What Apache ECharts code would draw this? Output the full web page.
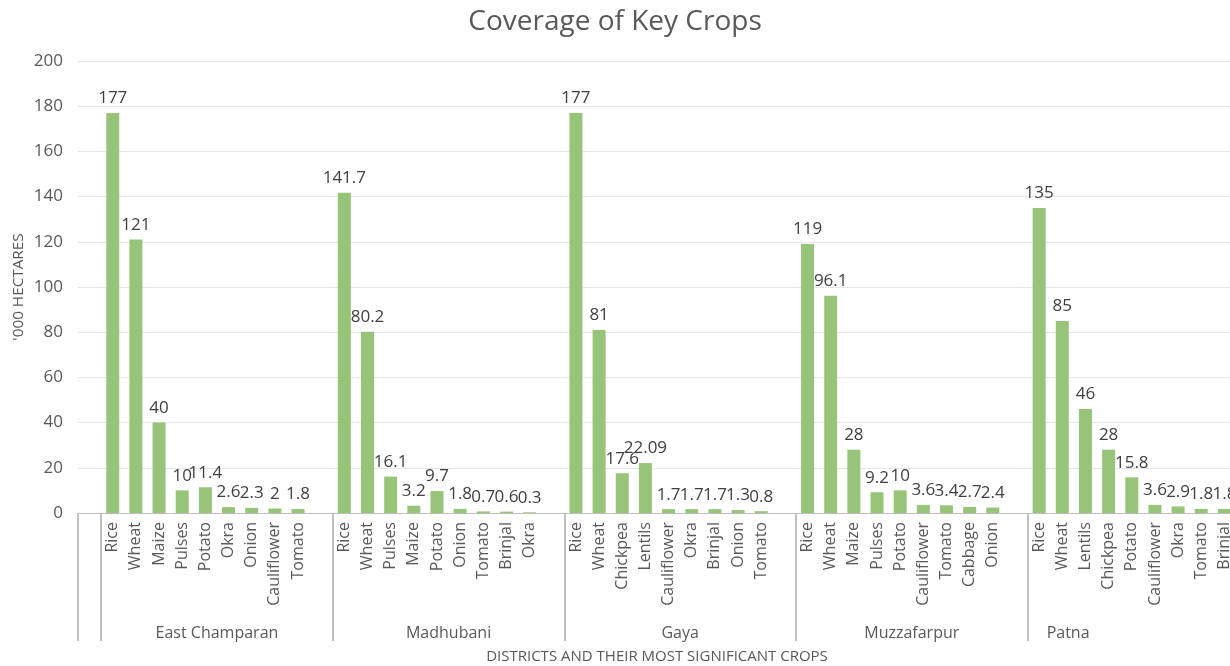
<!DOCTYPE html>
<html>
<head>
<meta charset="utf-8">
<script src="https://cdn.jsdelivr.net/npm/echarts@6/dist/echarts.min.js"></script>
<style>
html,body{margin:0;padding:0;background:#fff;}
#chart{width:1230px;height:666px;}
</style>
</head>
<body>
<div id="chart"></div>
<script>
// Categories: leading blank slot, then each district's crops followed by a blank slot
const districts = ['East Champaran', 'Madhubani', 'Gaya', 'Muzzafarpur', 'Patna'];
const eastChamparanCrops = ['Rice','Wheat','Maize','Pulses','Potato','Okra','Onion','Cauliflower','Tomato',''];
const eastChamparanValues = [177,121,40,10,11.4,2.6,2.3,2,1.8,null];
const madhubaniCrops = ['Rice','Wheat','Pulses','Maize','Potato','Onion','Tomato','Brinjal','Okra',''];
const madhubaniValues = [141.7,80.2,16.1,3.2,9.7,1.8,0.7,0.6,0.3,null];
const gayaCrops = ['Rice','Wheat','Chickpea','Lentils','Cauliflower','Okra','Brinjal','Onion','Tomato',''];
const gayaValues = [177,81,17.6,22.09,1.7,1.7,1.7,1.3,0.8,null];
const muzzafarpurCrops = ['Rice','Wheat','Maize','Pulses','Potato','Cauliflower','Tomato','Cabbage','Onion',''];
const muzzafarpurValues = [119,96.1,28,9.2,10,3.6,3.4,2.7,2.4,null];
const patnaCrops = ['Rice','Wheat','Lentils','Chickpea','Potato','Cauliflower','Okra','Tomato','Brinjal'];
const patnaValues = [135,85,46,28,15.8,3.6,2.9,1.8,1.8];
// group boundaries and label positions in slot units
const groupBoundaries = [0,1,11,21,31,41];
const groupLabelPositions = [6,16,26,36,42.75];
const yTicks = [0,20,40,60,80,100,120,140,160,180,200];

const categories = [''].concat(eastChamparanCrops, madhubaniCrops, gayaCrops, muzzafarpurCrops, patnaCrops);
const values = [null].concat(eastChamparanValues, madhubaniValues, gayaValues, muzzafarpurValues, patnaValues);
const totalSlots = categories.length;

const FONT = 'Open Sans';
const chart = echarts.init(document.getElementById('chart'), null, {renderer:'canvas'});
chart.setOption({
  animation:false,
  backgroundColor:'#ffffff',
  title:{
    text:'Coverage of Key Crops', left:'center', top:3,
    textStyle:{fontFamily:FONT, fontSize:28, fontWeight:'normal', color:'#595959'}
  },
  grid:{left:78, top:61, bottom:153, width:1158, containLabel:false, outerBoundsMode:'none'},
  xAxis:[{
    type:'category', data:categories, position:'bottom',
    axisLine:{show:true, lineStyle:{color:'#bfbfbf', width:1}},
    axisTick:{show:false},
    axisLabel:{interval:0, rotate:90, margin:9, color:'#595959', fontFamily:FONT, fontSize:16}
  },{
    type:'value', min:0, max:totalSlots, position:'bottom',
    axisLine:{show:false},
    splitLine:{show:false},
    axisTick:{show:true, customValues:groupBoundaries, length:128, inside:false, lineStyle:{color:'#bfbfbf', width:2}},
    axisLabel:{show:true, customValues:groupLabelPositions, margin:112, color:'#595959', fontFamily:FONT, fontSize:16,
      hideOverlap:false,
      formatter:function(v){ const i = groupLabelPositions.indexOf(v); return i>=0 ? districts[i] : ''; }},
    name:'DISTRICTS AND THEIR MOST SIGNIFICANT CROPS', nameLocation:'middle', nameGap:136, nameMoveOverlap:false,
    nameTextStyle:{color:'#595959', fontFamily:FONT, fontSize:15}
  }],
  yAxis:{
    type:'value', min:0, max:200, interval:20,
    axisLine:{show:false}, axisTick:{show:false},
    axisLabel:{color:'#595959', fontFamily:FONT, fontSize:17, margin:15,
      customValues:yTicks},
    splitLine:{lineStyle:{color:'#e6e6e6', width:1}},
    name:"'000 HECTARES", nameLocation:'middle', nameGap:52, nameRotate:90, nameMoveOverlap:false,
    nameTextStyle:{color:'#595959', fontFamily:FONT, fontSize:15.3}
  },
  series:[{
    type:'bar', data:values, xAxisIndex:0, barWidth:13,
    itemStyle:{color:'#98c47a'},
    label:{show:true, position:'top', distance:6, color:'#404040', fontFamily:FONT, fontSize:17,
      formatter:function(p){ return p.value==null ? '' : String(p.value); }}
  }]
});
</script>
</body>
</html>
